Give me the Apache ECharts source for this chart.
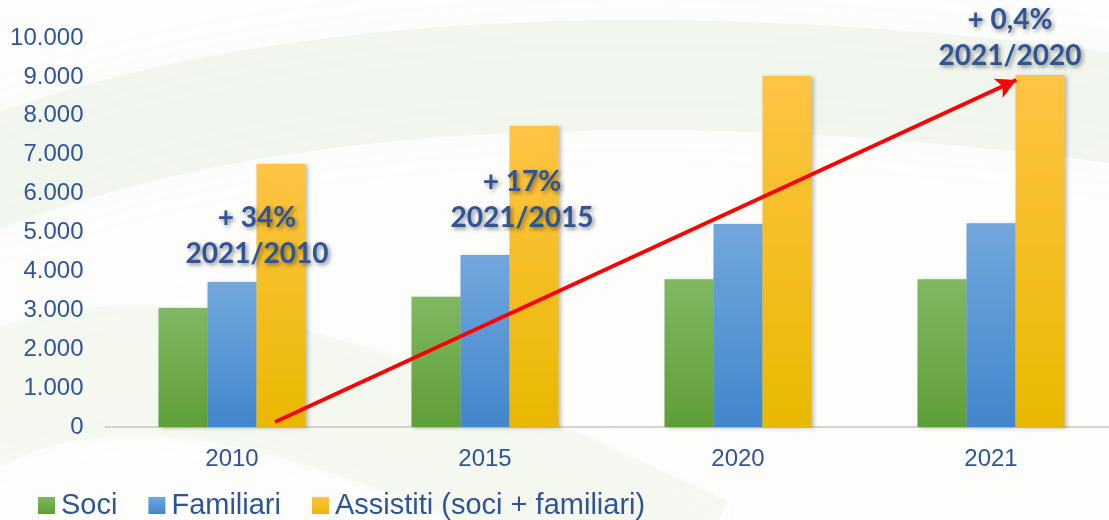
<!DOCTYPE html>
<html>
<head>
<meta charset="utf-8">
<script src="https://cdn.jsdelivr.net/npm/echarts@6/dist/echarts.min.js"></script>
<style>
  html, body { margin: 0; padding: 0; background: #fff; }
  #chart { width: 1109px; height: 520px; }
</style>
</head>
<body>
<div id="chart"></div>
<script>
// dati
const anni = ['2010', '2015', '2020', '2021']
const soci = [3060, 3350, 3800, 3800]
const familiari = [3730, 4420, 5220, 5240]
const assistiti = [6760, 7740, 9020, 9050]
const yTicks = [0, 1000, 2000, 3000, 4000, 5000, 6000, 7000, 8000, 9000, 10000]

// freccia rossa: [posizione sull'asse categorie (0..4), valore]
const frecciaDa = [0.67, 130]
const frecciaA = [3.6, 8920]

const annotazioni = [
  { testo: '+ 34%\n2021/2010', x: 257, y: 236 },
  { testo: '+ 17%\n2021/2015', x: 522, y: 200 },
  { testo: '+ 0,4%\n2021/2020', x: 1010, y: 38 }
]

const blu = '#2F5597'
const grad = (a, b) => new echarts.graphic.LinearGradient(0, 0, 0, 1, [
  { offset: 0, color: a },
  { offset: 1, color: b }
])

const chart = echarts.init(document.getElementById('chart'))

const barStyle = (c) => ({
  color: c,
  shadowBlur: 4,
  shadowOffsetX: 2,
  shadowOffsetY: 1,
  shadowColor: 'rgba(0,0,0,0.25)'
})

// sfondo sfumato (onda verde chiara)
const sfondo = [
  {
    type: 'bezierCurve',
    z: -10,
    shape: { x1: -50, y1: 190, x2: 1200, y2: 120, cpx1: 300, cpy1: 40, cpx2: 800, cpy2: 60 },
    style: { stroke: 'rgba(175,200,160,0.12)', lineWidth: 110, fill: null, shadowBlur: 60, shadowColor: 'rgba(175,200,160,0.3)' },
    silent: true
  },
  {
    type: 'bezierCurve',
    z: -10,
    shape: { x1: -50, y1: 420, x2: 700, y2: 560, cpx1: 150, cpy1: 300, cpx2: 400, cpy2: 420 },
    style: { stroke: 'rgba(195,215,170,0.12)', lineWidth: 130, fill: null, shadowBlur: 60, shadowColor: 'rgba(195,215,170,0.3)' },
    silent: true
  }
]

const testi = annotazioni.map(a => ({
  type: 'text',
  z: 100,
  x: a.x,
  y: a.y,
  style: {
    text: a.testo,
    fill: blu,
    font: 'bold 28px Lato',
    lineHeight: 36,
    align: 'center',
    verticalAlign: 'middle',
    textShadowColor: 'rgba(0,0,0,0.45)',
    textShadowBlur: 4,
    textShadowOffsetX: 2,
    textShadowOffsetY: 2
  },
  silent: true
}))

const option = {
  backgroundColor: '#fdfefc',
  animation: false,
  textStyle: { fontFamily: 'Liberation Sans' },
  grid: { left: 105.5, top: 38, right: -8.5, bottom: 93, outerBoundsMode: 'none' },
  legend: {
    left: 33,
    top: 486,
    icon: 'rect',
    itemWidth: 17,
    itemHeight: 17,
    itemGap: 31,
    textStyle: { fontSize: 29, color: blu, padding: [0, 0, 0, 1] },
    data: ['Soci', 'Familiari', 'Assistiti (soci + familiari)']
  },
  xAxis: [
    {
      type: 'category',
      data: anni,
      axisLine: { lineStyle: { color: '#D4D4D4', width: 2 } },
      axisTick: { show: false },
      axisLabel: { fontSize: 24, color: blu, margin: 20 }
    },
    { type: 'value', min: 0, max: 4, show: false }
  ],
  yAxis: [
    {
      type: 'value',
      min: yTicks[0],
      max: yTicks[yTicks.length - 1],
      interval: 1000,
      axisLine: { show: false },
      axisTick: { show: false },
      splitLine: { show: false },
      axisLabel: {
        fontSize: 24,
        color: blu,
        margin: 22,
        formatter: v => v.toString().replace(/\B(?=(\d{3})+(?!\d))/g, '.')
      }
    }
  ],
  series: [
    {
      name: 'Soci',
      type: 'bar',
      data: soci,
      barWidth: 49,
      barGap: '0%',
      itemStyle: barStyle(grad('#80B862', '#5E9E36'))
    },
    {
      name: 'Familiari',
      type: 'bar',
      data: familiari,
      barWidth: 49,
      barGap: '0%',
      itemStyle: barStyle(grad('#72A7DD', '#4187CB'))
    },
    {
      name: 'Assistiti (soci + familiari)',
      type: 'bar',
      data: assistiti,
      barWidth: 49,
      barGap: '0%',
      itemStyle: barStyle(grad('#FFC445', '#E9B800'))
    },
    {
      // freccia
      type: 'line',
      xAxisIndex: 1,
      data: [frecciaDa, frecciaA],
      symbol: 'none',
      lineStyle: { width: 0, opacity: 0 },
      silent: true,
      z: 10,
      markLine: {
        silent: true,
        symbol: ['none', 'arrow'],
        symbolSize: [16, 20],
        label: { show: false },
        lineStyle: { color: '#FF0000', width: 4, type: 'solid' },
        data: [[{ coord: frecciaDa }, { coord: frecciaA }]]
      }
    }
  ],
  graphic: sfondo.concat(testi)
}

chart.setOption(option)
</script>
</body>
</html>
